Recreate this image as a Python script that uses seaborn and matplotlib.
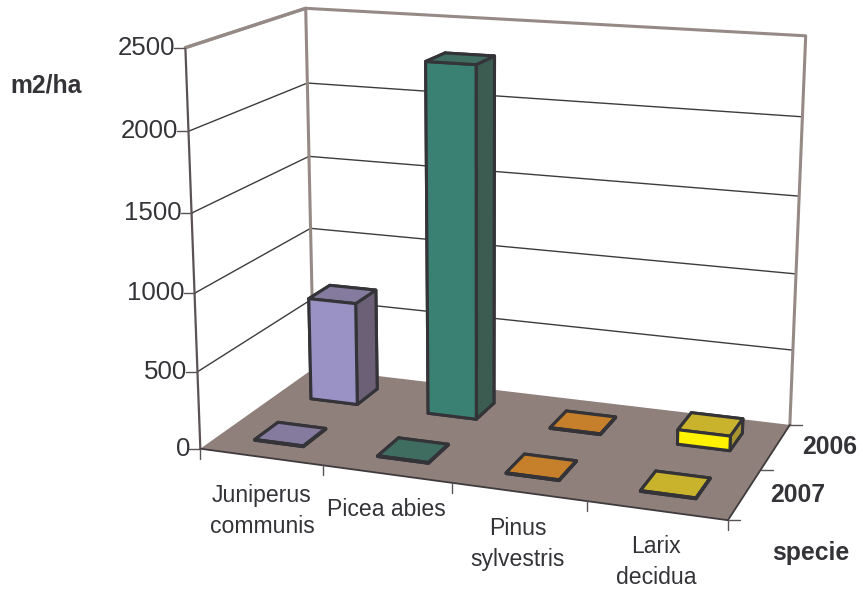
import numpy as np
import pandas as pd
import matplotlib
matplotlib.use('Agg')
import matplotlib.pyplot as plt
import seaborn as sns
from matplotlib.lines import Line2D
from mpl_toolkits.mplot3d.art3d import Poly3DCollection

especies = ['Juniperus\ncommunis', 'Picea abies', 'Pinus\nsylvestris', 'Larix\ndecidua']
anos = ['2007', '2006']
valores_2006 = [690, 2305, 5, 95]
valores_2007 = [5, 5, 5, 5]
ticks_z = [0, 500, 1000, 1500, 2000, 2500]

cor_frente = ['#9A91C4', '#3A8173', '#E8962E', '#FFF200']
cor_topo = ['#857B9F', '#3F6D60', '#C67F2B', '#C9B22C']
cor_lado = ['#6C6076', '#3C5C52', '#A06A28', '#A8952F']

sns.set_theme(style='white')
plt.rcParams['font.family'] = ['Liberation Sans', 'DejaVu Sans']

LARG, ALT = 863, 592

# pontos da caixa (x, y, z) -> pixel na imagem, para ajustar a perspectiva
caixa = [
    (0, 0, 0, 200.7, 449), (4, 0, 0, 727.5, 520.5), (0, 2, 0, 312.5, 368), (4, 2, 0, 790.7, 424),
    (0, 0, 500, 197.7, 371.7), (0, 0, 1000, 195, 293.3), (0, 0, 1500, 191.7, 213.3),
    (0, 0, 2000, 188, 130.5), (0, 0, 2500, 185, 47.7),
    (0, 2, 1000, 310.7, 228.7), (0, 2, 1500, 309, 156.7), (0, 2, 2000, 308, 83), (0, 2, 2500, 305.7, 8.3),
    (4, 2, 500, 793, 350.7), (4, 2, 1000, 795.7, 274), (4, 2, 1500, 799, 196),
    (4, 2, 2000, 802, 117), (4, 2, 2500, 806, 35.7),
]


def ajustar_camera(pontos):
    linhas = []
    for x, y, z, u, v in pontos:
        z = z / 2500
        linhas.append([x, y, z, 1, 0, 0, 0, 0, -u * x, -u * y, -u * z, -u])
        linhas.append([0, 0, 0, 0, x, y, z, 1, -v * x, -v * y, -v * z, -v])
    _, _, vt = np.linalg.svd(np.array(linhas, dtype=float))
    P = vt[-1].reshape(3, 4)
    P = P @ np.diag([1, 1, 1 / 2500, 1])
    if P[2] @ np.array([2, 1, 1250, 1]) < 0:
        P = -P
    return P / (P[2] @ np.array([2, 1, 1250, 1]))


P = ajustar_camera(caixa)


def para_pixel(x, y, z):
    u, v, w = P @ np.array([x, y, z, 1.0])
    return u / w, v / w


fig = plt.figure(figsize=(LARG / 100, ALT / 100), dpi=100, facecolor='white')
ax = fig.add_axes([0, (ALT - LARG) / 2 / ALT, 1, LARG / ALT], projection='3d')
ax.set_axis_off()
ax.computed_zorder = False
ax.apply_aspect()

# pixel -> coordenadas de vista do eixo 3d
inv = ax.transData.inverted()
(vx0, vy0), (vx1, vy1) = inv.transform([(0, ALT), (LARG, 0)])
ax_u, bx_u = (vx1 - vx0) / LARG, vx0
ax_v, bx_v = (vy1 - vy0) / ALT, vy0
# a profundidade tem de ficar negativa, senao o mplot3d mascara as linhas
M = np.array([
    ax_u * P[0] + bx_u * P[2],
    ax_v * P[1] + bx_v * P[2],
    np.array([-0.3 / 4, 0.5, -0.3 / 2500, 0]) - 5 * P[2],
    P[2],
])
ax.get_proj = lambda: M

# chao e paredes
piso = Poly3DCollection([[(0, 0, 0), (4, 0, 0), (4, 2, 0), (0, 2, 0)]],
                        facecolor='#8F807C', edgecolor='none', zorder=1)
ax.add_collection3d(piso)

cor_parede = '#968A86'
cor_grade = '#3F3B3D'
for z in ticks_z[1:-1]:
    ax.plot([0, 0, 4], [0, 2, 2], [z, z, z], color=cor_grade, lw=1.0, zorder=2)
ax.plot([0, 0, 4, 4], [0, 2, 2, 2], [2500, 2500, 2500, 0], color=cor_parede, lw=2.2, zorder=3)
ax.plot([0, 0], [2, 2], [0, 2500], color=cor_parede, lw=2.2, zorder=3)
ax.plot([0, 0], [0, 0], [0, 2500], color='#5B5254', lw=1.6, zorder=3)
ax.plot([0, 4, 4], [0, 0, 2], [0, 0, 0], color='#3F3B3D', lw=1.3, zorder=3)
ax.plot([0, 0], [0, 2], [2500, 2500], color=cor_parede, lw=2.4, zorder=3)

# barras
xs, ys, alturas, cores = [], [], [], []
dados = pd.DataFrame({'2007': valores_2007, '2006': valores_2006})
for j, ano in enumerate(anos):
    for i in range(len(especies)):
        xs.append(i + 0.3)
        ys.append(j + 0.3)
        alturas.append(dados[ano][i])
        # ordem das faces: baixo, topo, frente, tras, esquerda, direita
        cores += [cor_topo[i], cor_topo[i], cor_frente[i], cor_lado[i], cor_lado[i], cor_lado[i]]
barras = ax.bar3d(xs, ys, 0, 0.4, 0.4, alturas, color=cores, shade=False,
                  edgecolor='#333338', linewidth=2.2, zorder=5)

# marcas e textos ficam fora da caixa, em pixels a partir da projecao
def traco(p0, dx, dy):
    u, v = para_pixel(*p0)
    fig.add_artist(Line2D([u / LARG, (u + dx) / LARG], [1 - v / ALT, 1 - (v + dy) / ALT],
                          color='#5B5254', lw=1.0))


def texto(u, v, s, **kw):
    fig.text(u / LARG, 1 - v / ALT, s, color='#333338', **kw)


for z in ticks_z:
    traco((0, 0, z), -11, 0)
    u, v = para_pixel(0, 0, z)
    texto(u - 10, v, str(z), ha='right', va='center', fontsize=18.6)
for i in range(5):
    traco((i, 0, 0), 0, 10)
for j in range(3):
    traco((4, j, 0), 12, 0)

pos_especies = [(262, 511), (386, 510), (518, 544), (656, 562)]
for nome, (u, v) in zip(especies, pos_especies):
    texto(u, v, nome, ha='center', va='center', fontsize=16.6, linespacing=1.4)
texto(830, 447, '2006', ha='center', va='center', fontsize=17.8, fontweight='bold')
texto(798, 495, '2007', ha='center', va='center', fontsize=17.8, fontweight='bold')
texto(811, 553, 'specie', ha='center', va='center', fontsize=17.8, fontweight='bold')
texto(10, 85, 'm2/ha', ha='left', va='center', fontsize=17.8, fontweight='bold')

fig.savefig('out.png', dpi=100, facecolor='white')
